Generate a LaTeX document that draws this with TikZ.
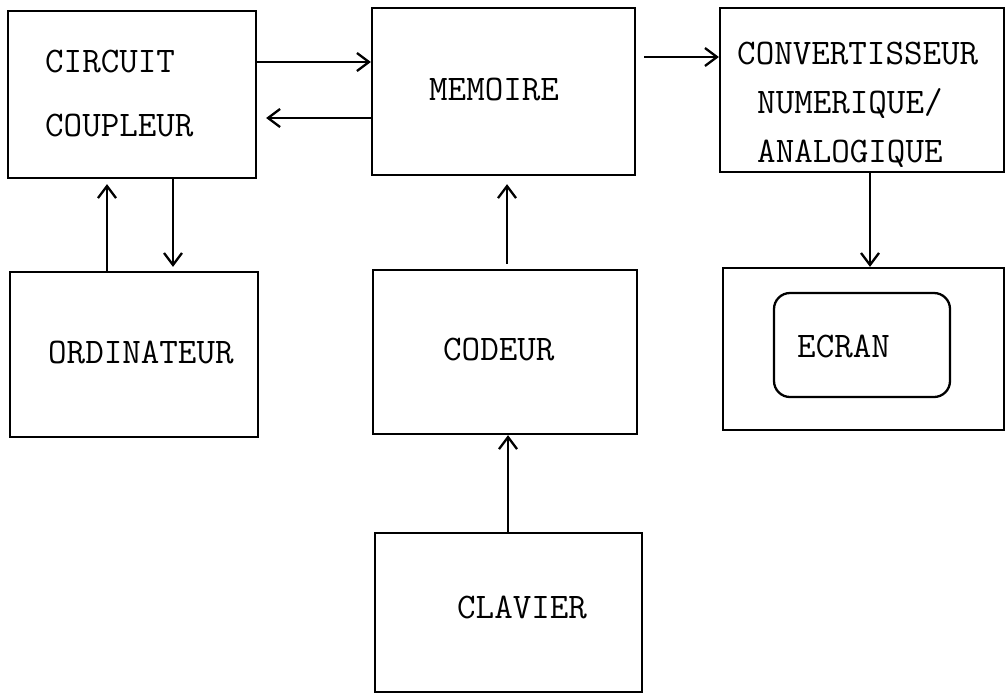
\documentclass[tikz,border=0pt]{standalone}
\usetikzlibrary{arrows.meta}
\begin{document}
\begin{tikzpicture}[x=1pt,y=-1pt,
  box/.style={draw,line width=2.3pt,minimum width=#1},
  lbl/.style={anchor=base west,inner sep=0pt,font=\fontsize{36}{40}\ttfamily},
  arr/.style={line width=2.3pt,-{Straight Barb[length=12pt,width=18pt]}}]
\useasboundingbox (0,0) rectangle (1008,694);
\node[box=248pt,minimum height=167pt] (circ) at (132,94.5) {};
\node[box=263pt,minimum height=167pt] (mem) at (503.5,91.5) {};
\node[box=284pt,minimum height=164pt] (conv) at (862,90) {};
\node[box=248pt,minimum height=165pt] (ordi) at (134,354.5) {};
\node[box=264pt,minimum height=164pt] (cod) at (505,352) {};
\node[box=281pt,minimum height=162pt] (ecr) at (863.5,349) {};
\node[box=176pt,minimum height=104pt,rounded corners=16pt] (scr) at (862,345) {};
\node[box=267pt,minimum height=159pt] (clav) at (508.5,612.5) {};
\node[lbl] (t1) at (45,72) {CIRCUIT};
\node[lbl] (t2) at (45,136) {COUPLEUR};
\node[lbl] (t3) at (429,100) {MEMOIRE};
\node[lbl] (t4) at (737,64) {CONVERTISSEUR};
\node[lbl] (t5) at (757,113) {NUMERIQUE/};
\node[lbl] (t6) at (757,162) {ANALOGIQUE};
\node[lbl] (t7) at (48,363) {ORDINATEUR};
\node[lbl] (t8) at (443,360) {CODEUR};
\node[lbl] (t9) at (797,357) {ECRAN};
\node[lbl] (t10) at (457,618) {CLAVIER};
\draw[arr] (circ.east |- 0,62) -- (mem.west |- 0,62);
\draw[arr,shorten >=9pt] (mem.west |- 0,118) -- (circ.east |- 0,118);
\draw[arr,shorten <=8pt] (mem.east |- 0,57) -- (conv.west |- 0,57);
\draw[arr,shorten >=5pt] (ordi.north -| 107,0) -- (circ.south -| 107,0);
\draw[arr,shorten >=4pt] (circ.south -| 173,0) -- (ordi.north -| 173,0);
\draw[arr,shorten <=5pt,shorten >=8pt] (cod.north -| 507,0) -- (mem.south -| 507,0);
\draw[arr] (conv.south -| 870,0) -- (ecr.north -| 870,0);
\draw[arr] (clav.north -| 508,0) -- (cod.south -| 508,0);
\end{tikzpicture}
\end{document}
